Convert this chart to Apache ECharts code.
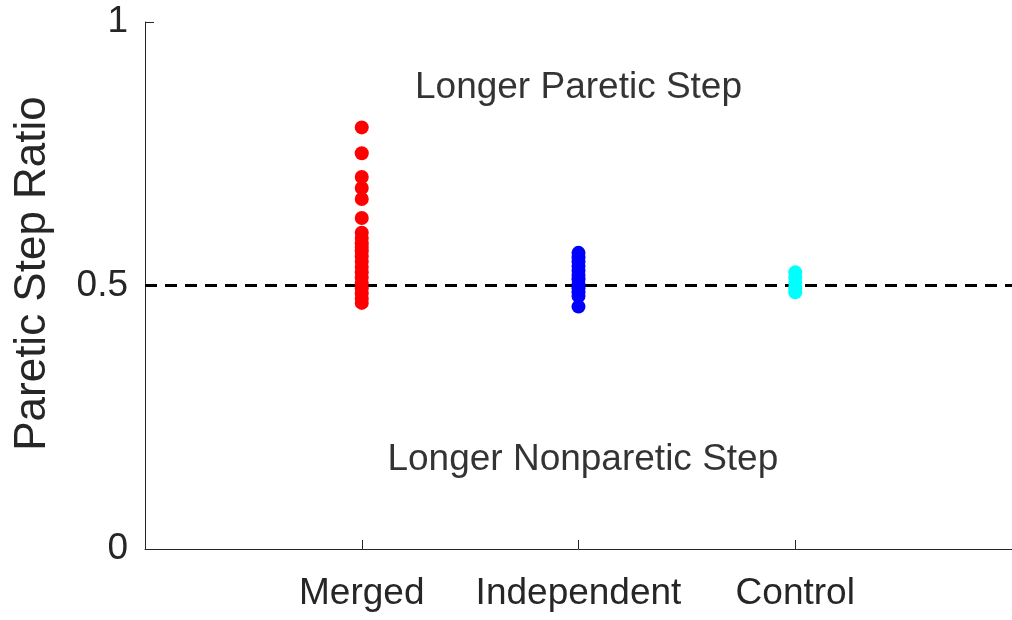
<!DOCTYPE html>
<html>
<head>
<meta charset="utf-8">
<script src="https://cdn.jsdelivr.net/npm/echarts@6/dist/echarts.min.js"></script>
<style>html,body{margin:0;padding:0;background:#fff;}#c{width:1012px;height:620px;}</style>
</head>
<body>
<div id="c"></div>
<script>
const categories = ['Merged', 'Independent', 'Control'];
const mergedValues = [0.80, 0.751, 0.706, 0.685, 0.664, 0.628, 0.60, 0.59, 0.58, 0.573, 0.565, 0.555, 0.545, 0.535, 0.525, 0.515, 0.505, 0.495, 0.485, 0.475, 0.467];
const independentValues = [0.562, 0.553, 0.545, 0.537, 0.528, 0.52, 0.512, 0.503, 0.495, 0.487, 0.48, 0.46];
const controlValues = [0.525, 0.515, 0.505, 0.495, 0.487];
const yTicks = [0, 0.5, 1];
const referenceLevel = 0.5;
const annotations = [
  {text: 'Longer Paretic Step', x: 2.0, y: 0.875},
  {text: 'Longer Nonparetic Step', x: 2.02, y: 0.169}
];

const colors = ['#ff0000', '#0000ff', '#00ffff'];
const groups = [mergedValues, independentValues, controlValues];

const chart = echarts.init(document.getElementById('c'), null, {renderer: 'canvas'});
const axisColor = '#262626';
const font = '"Liberation Sans", Arial, Helvetica, sans-serif';

const series = groups.map((vals, i) => ({
  type: 'scatter',
  name: categories[i],
  data: vals.map(v => [i + 1, v]),
  symbol: 'circle',
  symbolSize: 14,
  itemStyle: {color: colors[i], opacity: 1},
  z: 3
}));

series.push({
  type: 'line',
  data: [[0, referenceLevel], [4, referenceLevel]],
  symbol: 'none',
  lineStyle: {color: '#000', width: 3, type: [12, 8]},
  z: 2,
  silent: true
});

series.push({
  type: 'scatter',
  data: annotations.map(a => ({value: [a.x, a.y], name: a.text})),
  symbolSize: 0,
  label: {
    show: true, position: 'inside',
    formatter: p => p.name,
    color: '#000', fontSize: 37, fontFamily: font
  },
  silent: true
});

chart.setOption({
  animation: false,
  backgroundColor: '#fff',
  grid: {left: 145, top: 22, width: 870, bottom: 71, containLabel: false},
  xAxis: {
    type: 'value', min: 0, max: 4, interval: 1,
    splitLine: {show: false},
    axisLine: {show: true, onZero: false, lineStyle: {color: axisColor, width: 1}},
    axisTick: {show: true, inside: true, length: 9, customValues: [1, 2, 3], lineStyle: {color: axisColor}},
    axisLabel: {
      show: true, customValues: [1, 2, 3], margin: 26,
      formatter: v => categories[Math.round(v) - 1] || '',
      color: axisColor, fontSize: 37, fontFamily: font
    }
  },
  yAxis: {
    type: 'value', min: 0, max: 1, interval: 0.5,
    name: 'Paretic Step Ratio', nameLocation: 'middle', nameGap: 90,
    nameTextStyle: {color: axisColor, fontSize: 44, fontFamily: font, padding: [0, 0, 0, 24]},
    splitLine: {show: false},
    axisLine: {show: true, lineStyle: {color: axisColor, width: 1}},
    axisTick: {show: true, inside: true, length: 9, lineStyle: {color: axisColor}},
    axisLabel: {
      margin: 17,
      formatter: v => String(yTicks.find(t => Math.abs(t - v) < 1e-9)),
      color: axisColor, fontSize: 37, fontFamily: font
    }
  },
  series: series
});
</script>
</body>
</html>
